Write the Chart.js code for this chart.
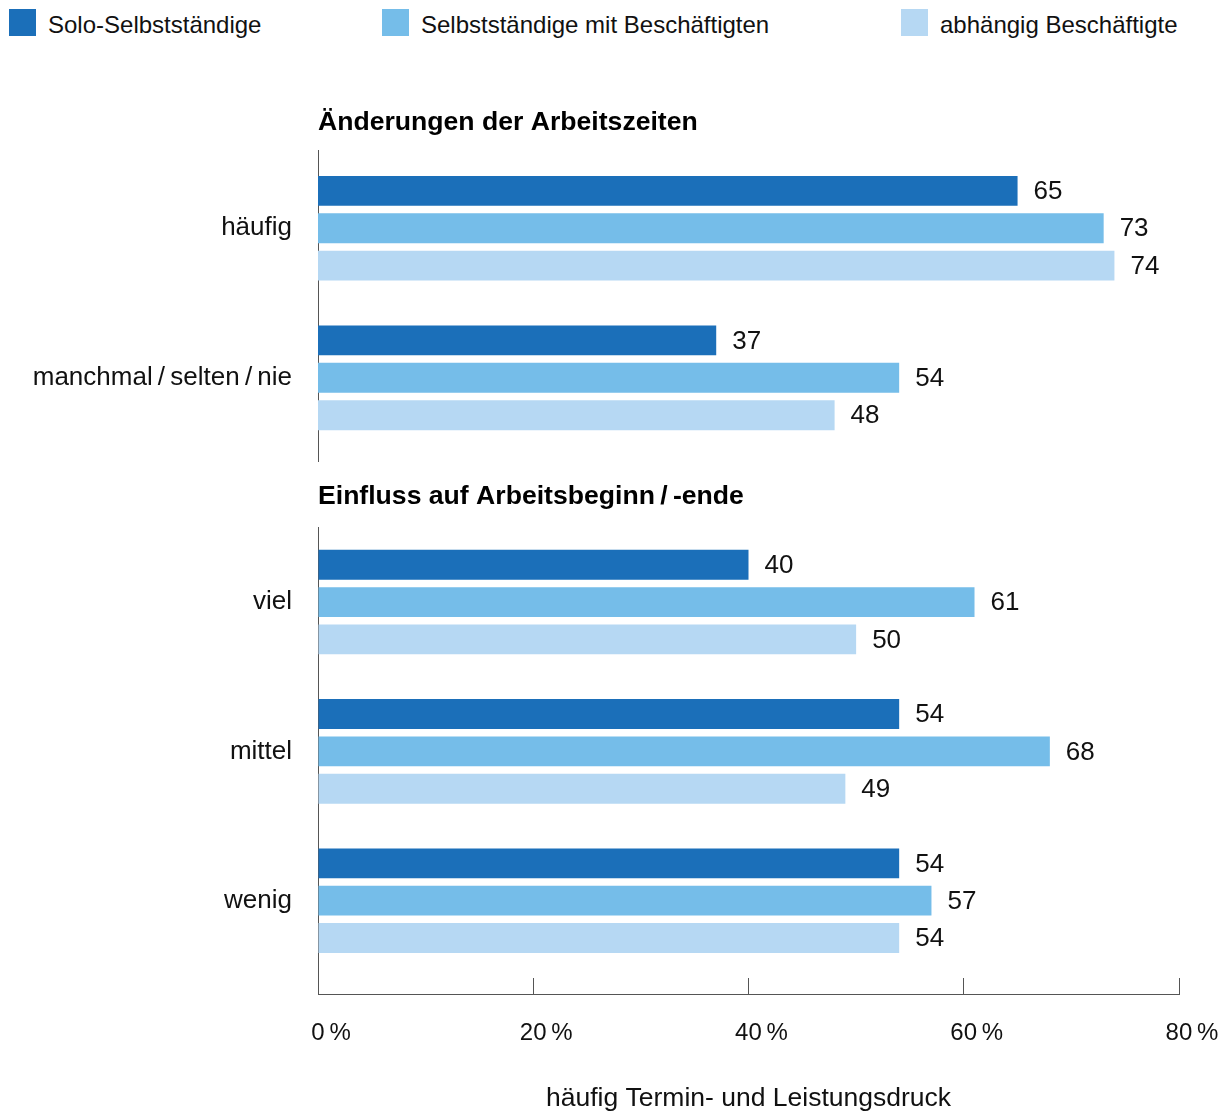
<!DOCTYPE html>
<html lang="de">
<head>
<meta charset="utf-8">
<title>Termin- und Leistungsdruck</title>
<script src="https://cdn.jsdelivr.net/npm/chart.js@4.4.1/dist/chart.umd.min.js"></script>
<style>
  html, body { margin: 0; padding: 0; background: #fff; }
  body {
    width: 1227px; height: 1115px; position: relative; overflow: hidden;
    font-family: "Liberation Sans", Arial, sans-serif; color: #111;
  }
  #legend { position: absolute; top: 9px; left: 0; width: 1227px; height: 27px; }
  .item { position: absolute; top: 0; display: flex; align-items: center; font-size: 24px; line-height: 27px; white-space: nowrap; }
  .swatch { width: 27px; height: 27px; margin-right: 12px; }
  .item span { position: relative; top: 2px; }
  canvas { position: absolute; left: 0; }
</style>
</head>
<body>
<div id="legend"></div>
<canvas id="chartA" width="1227" height="366" style="top:96px"></canvas>
<canvas id="chartB" width="1227" height="645" style="top:470px"></canvas>

<script>
// series
const seriesNames = ['Solo-Selbstständige', 'Selbstständige mit Beschäftigten', 'abhängig Beschäftigte'];
const seriesColors = ['#1b6fb9', '#75bde9', '#b6d8f3'];

// section 1: Änderungen der Arbeitszeiten
const titleA = 'Änderungen der Arbeitszeiten';
const categoriesA = ['häufig', 'manchmal\u2009/\u2009selten\u2009/\u2009nie'];
const soloA = [65, 37];
const mitBeschA = [73, 54];
const abhaengigA = [74, 48];

// section 2: Einfluss auf Arbeitsbeginn / -ende
const titleB = 'Einfluss auf Arbeitsbeginn\u2009/\u2009-ende';
const categoriesB = ['viel', 'mittel', 'wenig'];
const soloB = [40, 54, 54];
const mitBeschB = [61, 68, 57];
const abhaengigB = [50, 49, 54];

// x axis
const xTicks = [0, 20, 40, 60, 80];
const axisTitle = 'häufig Termin- und Leistungsdruck';

Chart.defaults.font.family = "'Liberation Sans', Arial, sans-serif";
Chart.defaults.color = '#111';

// legend (html)
const legendX = [9, 382, 901];
const legendEl = document.getElementById('legend');
seriesNames.forEach((name, i) => {
    const item = document.createElement('div');
    item.className = 'item';
    item.style.left = legendX[i] + 'px';
    item.innerHTML = `<div class="swatch" style="background:${seriesColors[i]}"></div><span>${name}</span>`;
    legendEl.appendChild(item);
});

// numbers right of the bars
const valueLabels = {
    id: 'valueLabels',
    afterDatasetsDraw(chart) {
        const ctx = chart.ctx;
        ctx.save();
        ctx.font = "26px 'Liberation Sans', Arial, sans-serif";
        ctx.fillStyle = '#111';
        ctx.textBaseline = 'middle';
        ctx.textAlign = 'left';
        chart.data.datasets.forEach((ds, i) => {
            chart.getDatasetMeta(i).data.forEach((bar, j) => {
                ctx.fillText(ds.data[j].x, bar.x + 16, bar.y + 1);
            });
        });
        ctx.restore();
    }
};

function sectionChart(id, title, categories, values, withAxis, yMin, yMax, titlePad) {
    return new Chart(document.getElementById(id), {
        type: 'bar',
        data: {
            datasets: seriesNames.map((name, s) => ({
                label: name,
                data: values[s].map((v, i) => ({ x: v, y: i })),
                backgroundColor: seriesColors[s],
                categoryPercentage: 0.75,
                barPercentage: 0.8
            }))
        },
        options: {
            indexAxis: 'y',
            responsive: false,
            animation: false,
            layout: { padding: { left: 0, right: 48, top: 0, bottom: 0 } },
            plugins: {
                legend: { display: false },
                tooltip: { enabled: false },
                title: {
                    display: true,
                    text: title,
                    align: 'start',
                    fullSize: false,
                    color: '#000',
                    font: { size: 26.6, weight: 'bold', lineHeight: 1.2 },
                    padding: titlePad
                }
            },
            scales: {
                x: {
                    min: 0,
                    max: 80,
                    display: withAxis,
                    afterBuildTicks: s => { s.ticks = xTicks.map(v => ({ value: v })); },
                    afterFit: s => {
                        s.paddingLeft = 0;
                        s.paddingRight = 0;
                        if (withAxis) s.height = 121;
                    },
                    grid: { display: true, drawOnChartArea: false, drawTicks: true, tickLength: -16, color: '#555' },
                    border: { display: true, color: '#555' },
                    ticks: {
                        padding: 41,
                        labelOffset: 13,
                        maxRotation: 0,
                        color: '#111',
                        font: { size: 24 },
                        callback: v => v + '\u2009%'
                    },
                    title: { display: withAxis, text: axisTitle, color: '#111', font: { size: 26.5 }, padding: 0 }
                },
                y: {
                    type: 'linear',
                    reverse: true,
                    offset: false,
                    min: yMin,
                    max: yMax,
                    afterBuildTicks: s => { s.ticks = categories.map((c, i) => ({ value: i })); },
                    afterFit: s => {
                        s.width = 318;
                        s.paddingTop = 0;
                        s.paddingBottom = 0;
                    },
                    grid: { display: false, drawTicks: false },
                    border: { display: true, color: '#555' },
                    ticks: { padding: 26, autoSkip: false, color: '#111', font: { size: 26 }, callback: v => categories[v] }
                }
            }
        },
        plugins: [valueLabels]
    });
}

sectionChart('chartA', titleA, categoriesA, [soloA, mitBeschA, abhaengigA], false, -0.517, 1.563, { top: 11, bottom: 12 });
sectionChart('chartB', titleB, categoriesB, [soloB, mitBeschB, abhaengigB], true, -0.498, 2.625, { top: 11, bottom: 14.8 });
</script>
</body>
</html>
